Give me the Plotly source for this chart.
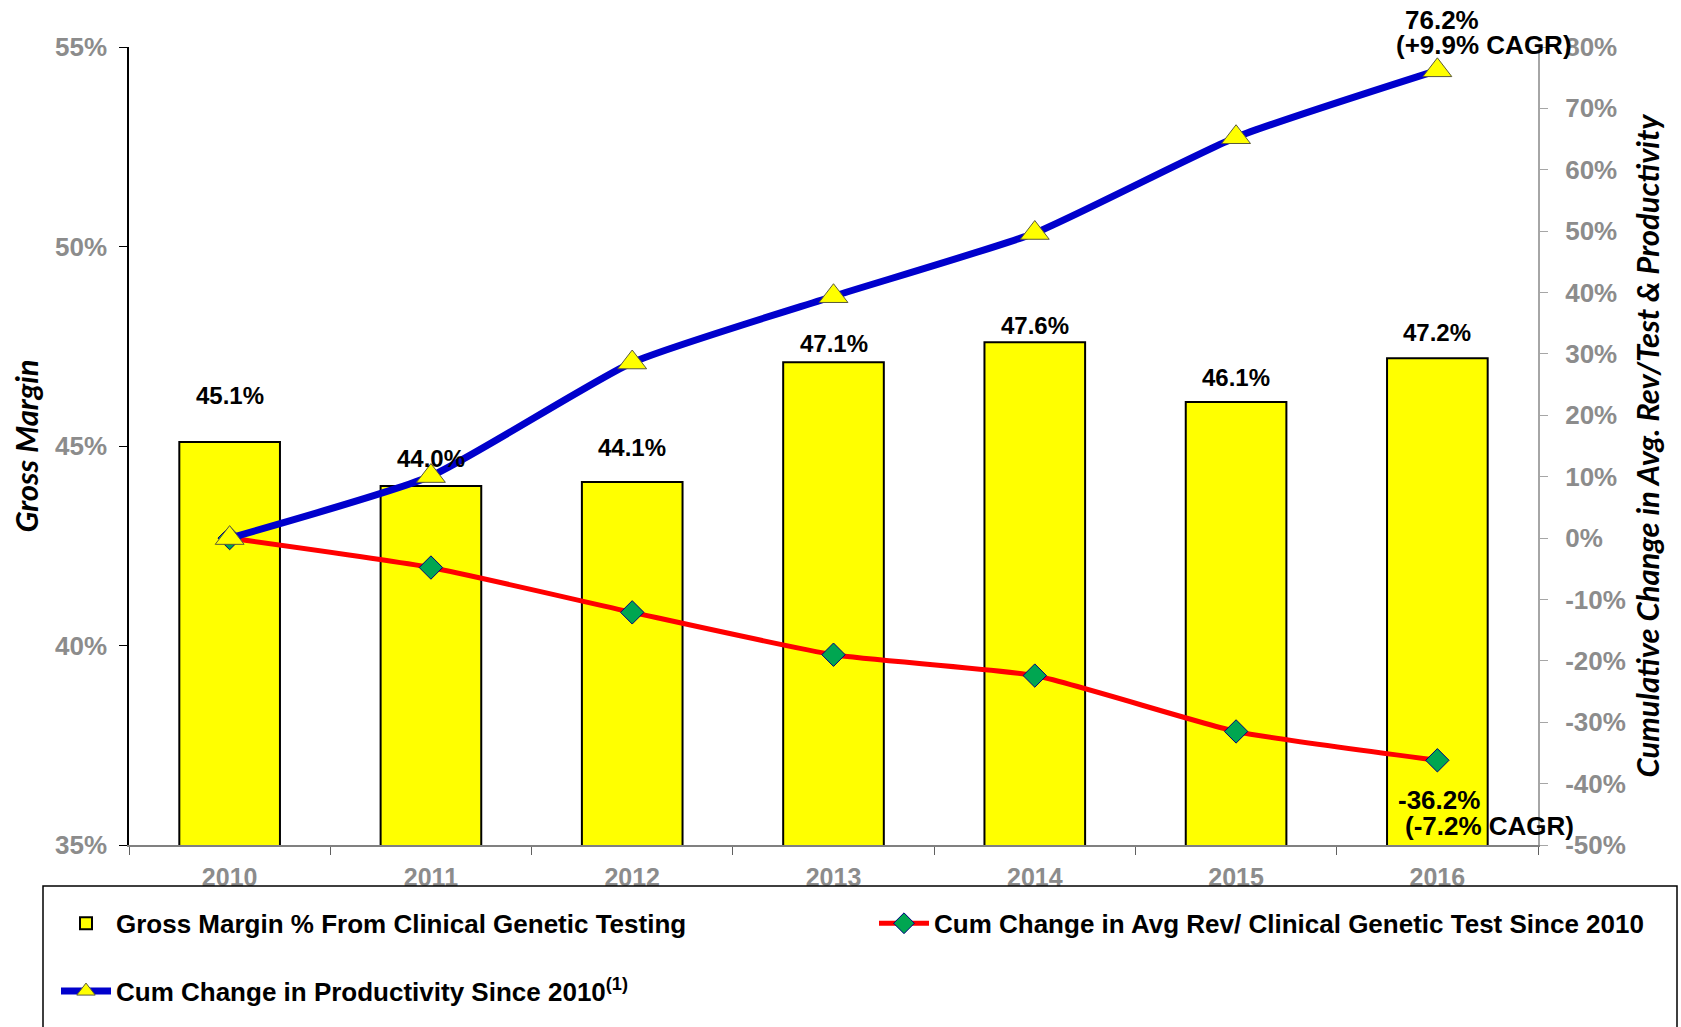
import plotly.graph_objects as go

# ---------------- data ----------------
years = ["2010", "2011", "2012", "2013", "2014", "2015", "2016"]
gross_margin = [45.1, 44.0, 44.1, 47.1, 47.6, 46.1, 47.2]          # % (left axis)
avg_rev_change = [0.0, -4.8, -12.1, -19.0, -22.4, -31.5, -36.2]     # % (right axis)
productivity_change = [0.0, 10.1, 28.6, 39.4, 49.7, 65.3, 76.2]     # % (right axis)
cagr_productivity = "+9.9%"
cagr_avg_rev = "-7.2%"
left_ticks = [35, 40, 45, 50, 55]
right_ticks = [-50, -40, -30, -20, -10, 0, 10, 20, 30, 40, 50, 60, 70, 80]

name_gm = "Gross Margin % From Clinical Genetic Testing"
name_rev = "Cum Change in Avg Rev/ Clinical Genetic Test Since 2010"
name_prod = "Cum Change in Productivity Since 2010<sup>(1)</sup>"

# ---------------- layout geometry (pixels) ----------------
W, H = 1681, 1027
ML, MR, MT, MB = 129, 143, 47, 180
PW, PH = W - ML - MR, H - MT - MB


def px_x(px):
    return (px - ML) / PW


def px_y(py):
    return (H - MB - py) / PH


label_yshift = [47, 27, 34, 19, 17, 25, 26]   # offset of the bar value labels above bars

FONT = "Liberation Sans, Arial, sans-serif"
GREY = "#8C8C8C"

fig = go.Figure()

fig.add_trace(go.Bar(
    x=years, y=gross_margin, name=name_gm, width=0.5,
    marker=dict(color="#FFFF00", line=dict(color="#000000", width=2)),
    legend="legend", yaxis="y",
))

fig.add_trace(go.Scatter(
    x=years, y=avg_rev_change, name=name_rev, mode="lines+markers",
    line=dict(color="#FF0000", width=5, shape="spline", smoothing=0.5),
    marker=dict(symbol="diamond", size=18, color="#00A651",
                line=dict(color="#000080", width=1)),
    legend="legend2", yaxis="y2",
))

fig.add_trace(go.Scatter(
    x=years, y=productivity_change, name=name_prod, mode="lines+markers",
    line=dict(color="#0000CC", width=7, shape="spline", smoothing=0.5),
    marker=dict(symbol="triangle-up", size=25, color="#FFFF00",
                line=dict(color="#5A5A3C", width=1)),
    legend="legend3", yaxis="y2",
))

annotations = []
for i, (v, ys) in enumerate(zip(gross_margin, label_yshift)):
    annotations.append(dict(
        x=i, y=v, xref="x", yref="y", text=f"<b>{v:.1f}%</b>", showarrow=False,
        yshift=ys, font=dict(family=FONT, size=24, color="#000000"),
    ))

li = len(years) - 1
annotations += [
    dict(x=li, y=productivity_change[-1], xref="x", yref="y2",
         text=f"<b>{productivity_change[-1]:.1f}%</b>", showarrow=False,
         xshift=5, yshift=50, font=dict(family=FONT, size=26, color="#000000")),
    dict(x=li, y=productivity_change[-1], xref="x", yref="y2",
         text=f"<b>({cagr_productivity} CAGR)</b>", showarrow=False,
         xshift=47, yshift=25, font=dict(family=FONT, size=26, color="#000000")),
    dict(x=li, y=avg_rev_change[-1], xref="x", yref="y2",
         text=f"<b>{avg_rev_change[-1]:.1f}%</b>", showarrow=False,
         xshift=2, yshift=-40, font=dict(family=FONT, size=26, color="#000000")),
    dict(x=li, y=avg_rev_change[-1], xref="x", yref="y2",
         text=f"<b>({cagr_avg_rev} CAGR)</b>", showarrow=False,
         xshift=52, yshift=-66, font=dict(family=FONT, size=26, color="#000000")),
]

shapes = [dict(
    type="rect", xref="paper", yref="paper",
    x0=px_x(43), x1=px_x(1677), y0=px_y(888), y1=px_y(1045),
    line=dict(color="#000000", width=1.5), fillcolor="rgba(0,0,0,0)",
)]

legend_font = dict(family=FONT, size=26, color="#000000", weight="bold")


def legend_box(xpx, ypx):
    return dict(
        orientation="h", x=px_x(xpx), y=px_y(ypx), xanchor="left", yanchor="top",
        font=legend_font, itemwidth=50,
        bgcolor="rgba(0,0,0,0)", borderwidth=0,
    )


title_font = dict(family="Lato", size=31, color="#000000", weight="bold", style="italic")

fig.update_layout(
    width=W, height=H,
    margin=dict(l=ML, r=MR, t=MT, b=MB),
    paper_bgcolor="white", plot_bgcolor="white",
    showlegend=True,
    xaxis=dict(
        type="category", range=[-0.5, 6.5],
        showline=True, linecolor="#808080", linewidth=1.5,
        ticks="outside", ticklen=8, tickcolor="#606060", tickwidth=1,
        tickson="boundaries", showgrid=False, zeroline=False,
        tickfont=dict(family=FONT, size=25, color=GREY, weight="bold"),
        ticklabelstandoff=9,
    ),
    yaxis=dict(
        range=[35, 55], tickmode="array", tickvals=left_ticks,
        ticktext=[f"{t}%" for t in left_ticks],
        showline=True, linecolor="#000000", linewidth=1.5,
        ticks="outside", ticklen=8, tickcolor="#000000",
        showgrid=False, zeroline=False,
        tickfont=dict(family=FONT, size=26, color=GREY, weight="bold"),
        ticklabelstandoff=7,
        title=dict(text="Gross Margin", standoff=7, font=title_font),
    ),
    yaxis2=dict(
        range=[-50, 80], tickmode="array", tickvals=right_ticks,
        ticktext=[f"{t}%" for t in right_ticks],
        overlaying="y", side="right",
        showline=True, linecolor="#A6A6A6", linewidth=2,
        ticks="outside", ticklen=8, tickcolor="#A6A6A6",
        showgrid=False, zeroline=False,
        tickfont=dict(family=FONT, size=26, color=GREY, weight="bold"),
        ticklabelstandoff=12,
        title=dict(text="Cumulative Change in Avg. Rev/Test & Productivity", standoff=12,
                   font=title_font),
    ),
    legend=legend_box(56, 902),
    legend2=legend_box(874, 902),
    legend3=legend_box(56, 970),
    annotations=annotations,
    shapes=shapes,
)

fig.write_html("out.html")
